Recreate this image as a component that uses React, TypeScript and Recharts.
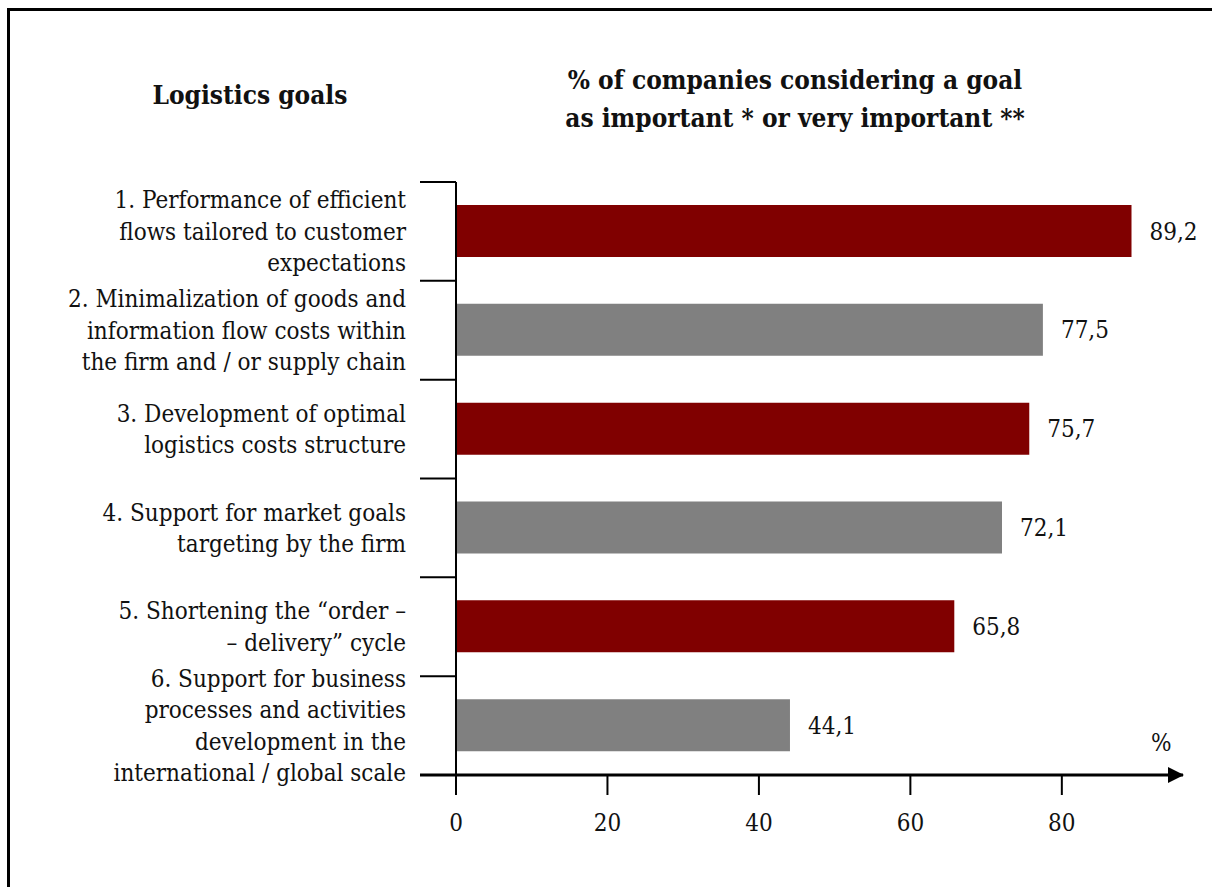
import { BarChart, Bar, XAxis, YAxis, Cell, LabelList } from "recharts"

// logistics goals, top to bottom
const categories = [
  "1. Performance of efficient\nflows tailored to customer\nexpectations",
  "2. Minimalization of goods and\ninformation flow costs within\nthe firm and / or supply chain",
  "3. Development of optimal\nlogistics costs structure",
  "4. Support for market goals\ntargeting by the firm",
  "5. Shortening the “order –\n– delivery” cycle",
  "6. Support for business\nprocesses and activities\ndevelopment in the\ninternational / global scale",
]
const shares = [89.2, 77.5, 75.7, 72.1, 65.8, 44.1]
const xTicks = [0, 20, 40, 60, 80]

const data = categories.map((name, i) => ({ name, value: shares[i] }))

const FONT = "'DejaVu Serif Condensed', 'DejaVu Serif', serif"
const RED = "#800000"
const GRAY = "#808080"

function GoalTick(props: any) {
  const { x, y, payload, index, visibleTicksCount } = props
  const lines = String(payload.value).split("\n")
  const lh = 31.5
  const half = payload.offset || 0
  const startY = y - ((lines.length - 1) * lh) / 2
  return (
    <g>
      <line x1={x - 36} x2={x} y1={y - half} y2={y - half} stroke="#000" strokeWidth={2} />
      {index === visibleTicksCount - 1 && (
        <line x1={x - 36} x2={x} y1={y + half} y2={y + half} stroke="#000" strokeWidth={3} />
      )}
      <text textAnchor="end" fontFamily={FONT} fontSize={24} fill="#111">
        {lines.map((l, i) => (
          <tspan key={i} x={x - 50} y={startY + i * lh} dy="0.35em">
            {l}
          </tspan>
        ))}
      </text>
    </g>
  )
}

const fmt = (v: any) => Number(v).toFixed(1).replace(".", ",")

export default function App() {
  return (
    <div
      style={{
        position: "fixed",
        left: 0,
        top: 0,
        width: 1212,
        height: 887,
        overflow: "hidden",
        background: "#fff",
        fontFamily: FONT,
      }}
    >
      <svg width={0} height={0} style={{ position: "absolute" }}>
        <defs>
          <marker
            id="axisArrow"
            viewBox="0 0 16 16"
            refX={15}
            refY={8}
            markerWidth={16}
            markerHeight={16}
            markerUnits="userSpaceOnUse"
            orient="auto"
          >
            <path d="M0,0 L16,8 L0,16 z" fill="#000" />
          </marker>
        </defs>
      </svg>
      <div
        style={{
          position: "absolute",
          left: 7,
          top: 8,
          width: 1300,
          height: 1000,
          border: "3px solid #000",
        }}
      />
      <div
        style={{
          position: "absolute",
          left: 0,
          width: 500,
          top: 80,
          textAlign: "center",
          fontWeight: "bold",
          fontSize: 26,
          color: "#111",
        }}
      >
        Logistics goals
      </div>
      <div
        style={{
          position: "absolute",
          left: 545,
          width: 500,
          top: 61,
          textAlign: "center",
          fontWeight: "bold",
          fontSize: 26,
          lineHeight: "38px",
          color: "#111",
        }}
      >
        % of companies considering a goal
        <br />
        as important * or very important **
      </div>
      <div style={{ position: "absolute", left: 1151, top: 729, fontSize: 24, color: "#111" }}>%</div>
      <div style={{ position: "absolute", left: 0, top: 0 }}>
        <BarChart
          width={1212}
          height={887}
          data={data}
          layout="vertical"
          margin={{ top: 182, right: 29, bottom: 0, left: 10 }}
        >
          <XAxis
            type="number"
            domain={[0, 96]}
            ticks={xTicks}
            height={112}
            tickSize={20}
            tickMargin={19}
            axisLine={{ stroke: "#000", strokeWidth: 3, markerEnd: "url(#axisArrow)" }}
            tickLine={{ stroke: "#000", strokeWidth: 2 }}
            tick={{ fontFamily: FONT, fontSize: 24, fill: "#111" }}
          />
          <YAxis
            type="category"
            dataKey="name"
            width={446}
            interval={0}
            tickSize={0}
            tickMargin={0}
            tickLine={false}
            axisLine={{ stroke: "#000", strokeWidth: 2 }}
            tick={<GoalTick />}
          />
          <Bar dataKey="value" barSize={52} isAnimationActive={false}>
            {data.map((_, i) => (
              <Cell key={i} fill={i % 2 === 0 ? RED : GRAY} />
            ))}
            <LabelList
              dataKey="value"
              position="right"
              offset={18}
              formatter={fmt}
              style={{ fontFamily: FONT, fontSize: 24, fill: "#111" }}
            />
          </Bar>
        </BarChart>
      </div>
    </div>
  )
}
